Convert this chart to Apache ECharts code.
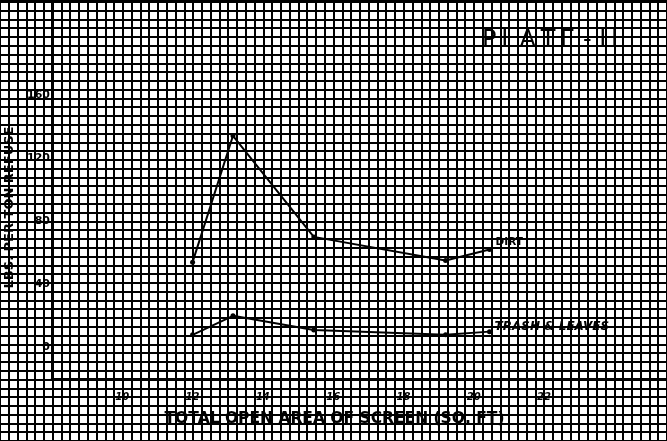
<!DOCTYPE html>
<html>
<head>
<meta charset="utf-8">
<script src="https://cdn.jsdelivr.net/npm/echarts@6/dist/echarts.min.js"></script>
<style>
  html, body { margin: 0; padding: 0; background: #fff; }
  #chart { width: 667px; height: 441px; }
</style>
</head>
<body>
<div id="chart"></div>
<script>
// open area of screen (sq ft)
var openArea = [12, 13.15, 15.45, 19.2, 20.45];
// lbs per ton refuse
var dirt = [54, 134, 70, 55, 62];
var trashLeaves = [8, 20, 11, 8, 10];
var xTickLabels = [10, 12, 14, 16, 18, 20, 22];
var yTickLabels = [0, 40, 80, 120, 160];

function pairs(xs, ys) {
  return xs.map(function (x, i) { return [x, ys[i]]; });
}

var font = 'DejaVu Sans';
var chart = echarts.init(document.getElementById('chart'));

var option = {
  backgroundColor: '#fff',
  animation: false,
  title: {
    // thin spaces to spread the lettering like the original
    text: 'P\u2009L\u2009A\u2009T\u2009E - I\u2009I',
    left: 477,
    top: 24,
    textStyle: { fontFamily: font, fontSize: 24, fontWeight: 'normal', color: '#000' }
  },
  grid: [
    // graph paper
    { left: 0, right: 0, top: 0, bottom: 0, outerBoundsMode: 'none', containLabel: false },
    // plot
    { left: 52, right: 0, top: 0, bottom: 62, outerBoundsMode: 'none', containLabel: false }
  ],
  xAxis: [
    {
      gridIndex: 0, type: 'value', min: 6.5, max: 25.5, interval: 0.25,
      axisLine: { show: false }, axisTick: { show: false }, axisLabel: { show: false },
      splitLine: { show: true, lineStyle: { color: '#000', width: 2 } }
    },
    {
      gridIndex: 1, type: 'value', min: 8, max: 25.5, interval: 2,
      axisLine: { show: true, onZero: false, lineStyle: { color: '#000', width: 3 } },
      axisTick: { show: false },
      splitLine: { show: false },
      axisLabel: {
        margin: 13,
        fontFamily: font, fontSize: 10, fontWeight: 'bold', fontStyle: 'italic', color: '#000',
        formatter: function (v) { return xTickLabels.indexOf(v) >= 0 ? String(v) : ''; }
      },
      name: 'TOTAL OPEN AREA OF SCREEN (SQ. FT)',
      nameLocation: 'middle',
      nameGap: 32,
      nameTextStyle: { fontFamily: font, fontSize: 15.5, fontWeight: 'bold', color: '#000', padding: [0, 50, 0, 0] }
    }
  ],
  yAxis: [
    {
      gridIndex: 0, type: 'value', min: 0, max: 50.2, interval: 1,
      axisLine: { show: false }, axisTick: { show: false }, axisLabel: { show: false },
      splitLine: { show: true, lineStyle: { color: '#000', width: 2 } }
    },
    {
      gridIndex: 1, type: 'value', min: -20, max: 220, interval: 20,
      axisLine: { show: true, onZero: false, lineStyle: { color: '#000', width: 3 } },
      axisTick: { show: false },
      splitLine: { show: false },
      axisLabel: {
        margin: 2,
        fontFamily: font, fontSize: 11, fontWeight: 'bold', color: '#000',
        formatter: function (v) { return yTickLabels.indexOf(v) >= 0 ? String(v) : ''; }
      },
      name: 'LBS. PER TON REFUSE',
      nameLocation: 'middle',
      nameGap: 34,
      nameRotate: 90,
      nameTextStyle: { fontFamily: font, fontSize: 13, fontWeight: 'bold', color: '#000', padding: [0, 36, 0, 0] }
    }
  ],
  series: [
    {
      name: 'DIRT',
      type: 'line',
      xAxisIndex: 1, yAxisIndex: 1,
      data: pairs(openArea, dirt),
      symbol: 'circle', symbolSize: 5,
      itemStyle: { color: '#000' },
      lineStyle: { color: '#000', width: 2 },
      endLabel: {
        show: true, formatter: 'DIRT', offset: [-2, -7],
        fontFamily: font, fontSize: 10.5, fontWeight: 'bold', color: '#000'
      }
    },
    {
      name: 'TRASH & LEAVES',
      type: 'line',
      xAxisIndex: 1, yAxisIndex: 1,
      data: pairs(openArea, trashLeaves),
      symbol: 'circle', symbolSize: 5,
      itemStyle: { color: '#000' },
      lineStyle: { color: '#000', width: 2 },
      endLabel: {
        show: true, formatter: 'TRASH & LEAVES', offset: [-3, -5],
        fontFamily: font, fontSize: 12, fontWeight: 'bold', fontStyle: 'italic', color: '#000'
      }
    }
  ]
};

chart.setOption(option);
</script>
</body>
</html>
